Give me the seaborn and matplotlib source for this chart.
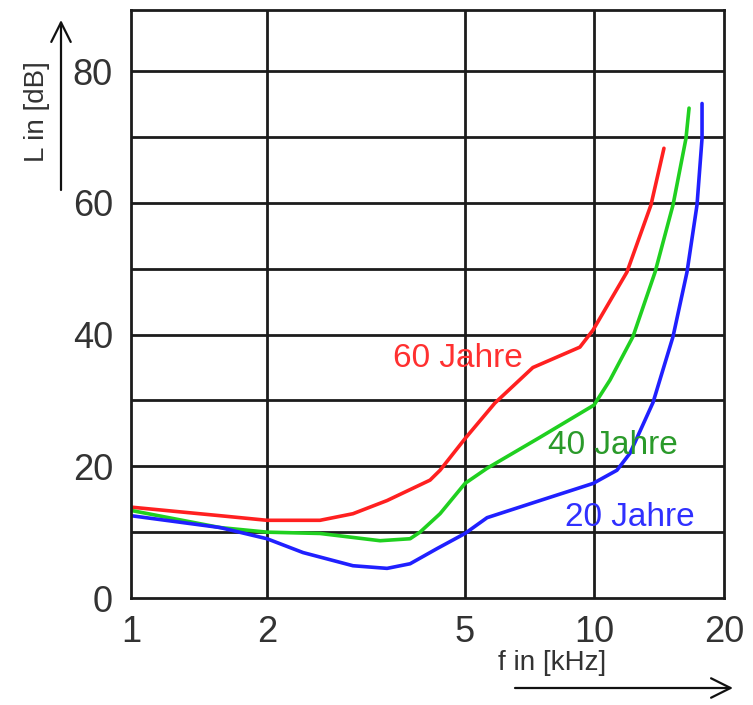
import numpy as np
import pandas as pd
import matplotlib
matplotlib.use("Agg")
import matplotlib.pyplot as plt
import seaborn as sns

# Hearing threshold curves by age: frequency in kHz, level in dB
freq_60 = [1.0, 1.574, 2.0, 2.556, 2.977, 3.486, 4.253, 4.455, 5.0, 5.87, 7.20, 9.27, 9.95, 11.92, 13.55, 14.52]
level_60 = [13.8, 12.5, 11.8, 11.8, 12.8, 14.8, 17.9, 19.4, 24.2, 29.6, 35.0, 38.1, 40.7, 49.5, 59.7, 68.3]

freq_40 = [1.0, 1.574, 2.0, 2.556, 3.375, 3.878, 4.06, 4.455, 5.0, 5.63, 7.48, 10.0, 10.89, 12.31, 13.85, 15.24, 16.33, 16.60]
level_40 = [13.3, 10.7, 10.0, 9.8, 8.7, 9.0, 10.0, 12.8, 17.4, 19.7, 24.4, 29.3, 33.1, 39.7, 49.5, 59.7, 69.8, 74.4]

freq_20 = [1.0, 1.574, 2.0, 2.363, 2.977, 3.486, 3.878, 4.393, 5.0, 5.63, 7.48, 9.95, 11.30, 12.12, 13.70, 15.24, 16.42, 17.32, 17.79, 17.79]
level_20 = [12.5, 10.7, 9.0, 6.9, 4.9, 4.5, 5.2, 7.5, 9.8, 12.2, 14.8, 17.4, 19.4, 22.0, 29.7, 39.7, 49.5, 59.7, 69.8, 75.1]

age_labels = ["60 Jahre", "40 Jahre", "20 Jahre"]
line_colors = ["#ff2020", "#20d020", "#2020ff"]
text_colors = ["#ff3030", "#2a9a2a", "#3030ff"]

x_ticks = [1, 2, 5, 10, 20]
x_ticklabels = ["1", "2", "5", "10", "20"]
y_grid = list(range(0, 90, 10))
y_ticklabels = ["0", "", "20", "", "40", "", "60", "", "80"]

df = pd.concat([
    pd.DataFrame({"f": freq_60, "L": level_60, "Alter": age_labels[0]}),
    pd.DataFrame({"f": freq_40, "L": level_40, "Alter": age_labels[1]}),
    pd.DataFrame({"f": freq_20, "L": level_20, "Alter": age_labels[2]}),
], ignore_index=True)

# Hand-drawn logarithmic frequency axis: decade spacing varies slightly
_lk = np.log10([0.1, 1, 2, 5, 10, 20, 200])
_pk = np.array([-136 / np.log10(2), 0, 136, 334, 463, 593, 593 + 130 / np.log10(2)])


def _fwd(f):
    f = np.asarray(f, dtype=float)
    return np.interp(np.log10(np.clip(f, 1e-9, None)), _lk, _pk)


def _inv(p):
    p = np.asarray(p, dtype=float)
    return 10 ** np.interp(p, _pk, _lk)


sns.set_style("white")
plt.rcParams["font.family"] = ["Liberation Sans", "DejaVu Sans"]

W, H = 753, 705
fig = plt.figure(figsize=(W / 100, H / 100), dpi=100)
ax = fig.add_axes([131 / W, (H - 598) / H, (724 - 131) / W, (598 - 10) / H])

sns.lineplot(data=df, x="f", y="L", hue="Alter", palette=line_colors,
             hue_order=age_labels, sort=False, estimator=None,
             legend=False, linewidth=2.6, ax=ax)

ax.set_xscale("function", functions=(_fwd, _inv))
ax.set_xlim(1, 20)
ax.set_ylim(0, 89.3)

grid_kw = dict(color="#1c1c1c", linewidth=2.0, zorder=0.5)
for v in y_grid[1:]:
    ax.axhline(v, **grid_kw)
for v in x_ticks[1:-1]:
    ax.axvline(v, **grid_kw)

ax.set_xticks(x_ticks)
ax.set_xticklabels(x_ticklabels)
ax.set_yticks(y_grid)
ax.set_yticklabels(y_ticklabels)
ax.minorticks_off()
ax.tick_params(axis="both", length=0, labelsize=26, labelcolor="#333333")
ax.tick_params(axis="y", pad=13)
ax.tick_params(axis="x", pad=12)
ax.set_xlabel("")
ax.set_ylabel("")

for s in ax.spines.values():
    s.set_visible(True)
    s.set_color("#1c1c1c")
    s.set_linewidth(2.0)

# Curve captions
label_pos = [(3.58, 36.4), (7.81, 23.2), (8.56, 12.2)]
for (fx, ly), txt, col in zip(label_pos, age_labels, text_colors):
    ax.text(fx, ly, txt, color=col, fontsize=24, ha="left", va="center")

# Axis titles with arrows
fig.text(37 / W, 1 - 112 / H, "L in [dB]", rotation=90, ha="center", va="center",
         fontsize=20, color="#333333")
fig.text(552 / W, 1 - 663 / H, "f in [kHz]", ha="center", va="center",
         fontsize=20, color="#333333")

arrow_kw = dict(arrowstyle="->,head_length=0.7,head_width=0.35", color="#111111",
                lw=1.6, mutation_scale=20, shrinkA=0, shrinkB=0)
ax.annotate("", xy=(61, H - 20), xytext=(61, H - 190), xycoords="figure pixels",
            textcoords="figure pixels", arrowprops=arrow_kw, annotation_clip=False)
ax.annotate("", xy=(733, H - 688), xytext=(515, H - 688), xycoords="figure pixels",
            textcoords="figure pixels", arrowprops=arrow_kw, annotation_clip=False)

fig.savefig("out.png", dpi=100)
